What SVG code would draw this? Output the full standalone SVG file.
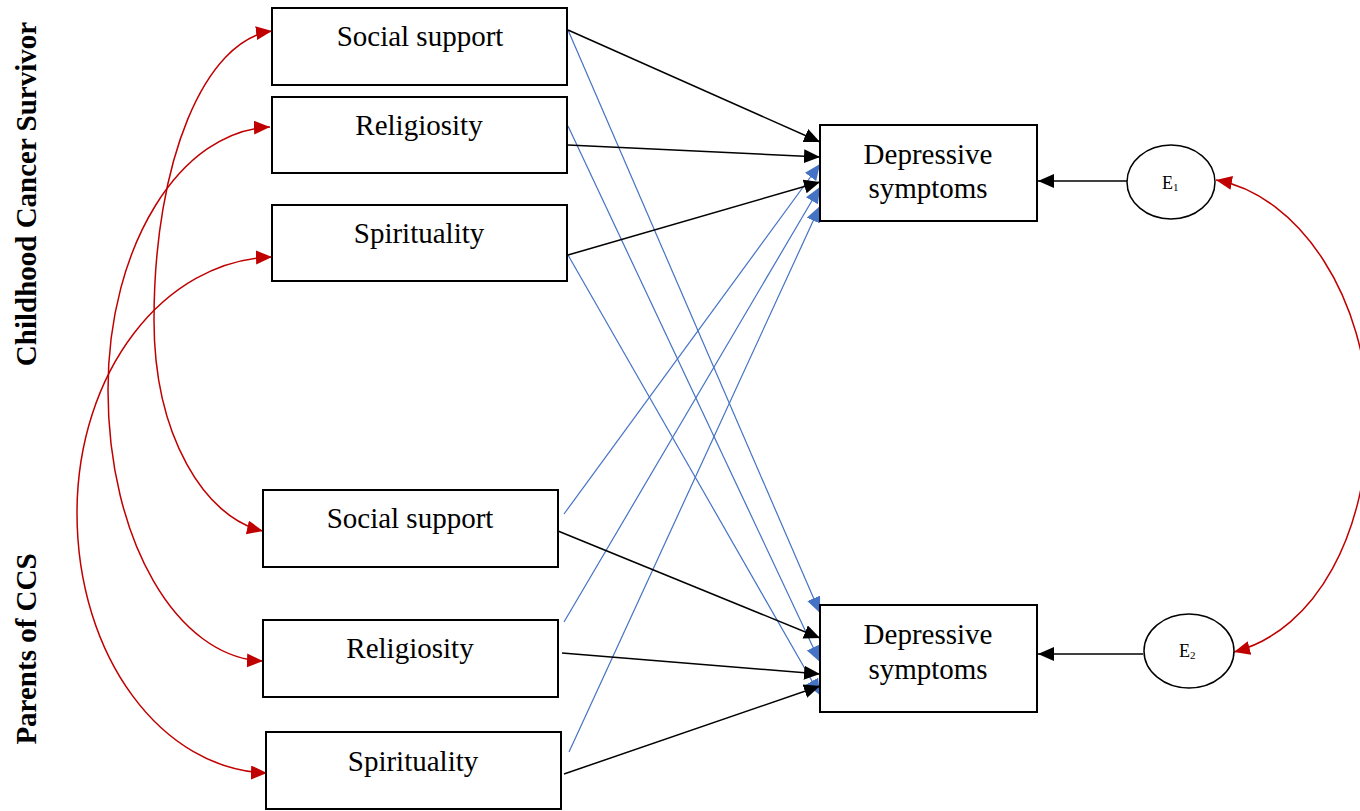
<svg xmlns="http://www.w3.org/2000/svg" width="1360" height="811" viewBox="0 0 1360 811">
<style>
.box{fill:#fff;stroke:#000;stroke-width:2}
.t{font-family:"Liberation Serif","Times New Roman",serif;font-size:29px;fill:#000;text-anchor:middle}
.lab{font-family:"Liberation Serif","Times New Roman",serif;font-size:29px;font-weight:bold;fill:#000;text-anchor:middle}
.e{font-family:"Liberation Serif","Times New Roman",serif;font-size:18px;fill:#000}
.blk{stroke:#000;stroke-width:1.5;fill:none;marker-end:url(#ab)}
.blu{stroke:#4472C4;stroke-width:1.2;fill:none;marker-end:url(#au)}
.red{stroke:#C00000;stroke-width:1.5;fill:none;marker-start:url(#ar);marker-end:url(#ar)}
</style>
<defs>
<marker id="ab" markerUnits="userSpaceOnUse" markerWidth="17" markerHeight="15" refX="16" refY="7" orient="auto"><path d="M0,0 L16,7 L0,14 z" fill="#000"/></marker>
<marker id="au" markerUnits="userSpaceOnUse" markerWidth="17" markerHeight="15" refX="16" refY="7" orient="auto"><path d="M0,0 L16,7 L0,14 z" fill="#4472C4"/></marker>
<marker id="ar" markerUnits="userSpaceOnUse" markerWidth="17" markerHeight="15" refX="16" refY="7" orient="auto-start-reverse"><path d="M0,0 L16,7 L0,14 z" fill="#C00000"/></marker>
</defs>
<rect width="1360" height="811" fill="#fff"/>
<text class="lab" transform="translate(36,194) rotate(-90)">Childhood Cancer Survivor</text>
<text class="lab" transform="translate(36,649) rotate(-90)">Parents of CCS</text>
<g id="connectors">
<path class="blu" d="M568,30 L820,613"/>
<path class="blu" d="M568,126 L820,662"/>
<path class="blu" d="M568,255 L820,695"/>
<path class="blu" d="M564,514 L820,164"/>
<path class="blu" d="M564,622 L820,187"/>
<path class="blu" d="M569,752 L820,206"/>
<path class="blk" d="M568,30 L820,142"/>
<path class="blk" d="M568,145 L820,157"/>
<path class="blk" d="M568,255 L820,182"/>
<path class="blk" d="M558,531 L820,638"/>
<path class="blk" d="M562,653 L820,674"/>
<path class="blk" d="M564,774 L820,686"/>
<path class="blk" d="M1127,181 L1038,181"/>
<path class="blk" d="M1143,654 L1038,654"/>
<path class="red" d="M272,31 C205,40 154,160 154,320 C154,436 205,518 263,531"/>
<path class="red" d="M270,127 C181,130 108,245 108,390 C108,540 177,658 263,661"/>
<path class="red" d="M272,257 C164,260 77,372 77,513 C77,657 162,770 267,773"/>
<path class="red" d="M1216,180 C1300,195 1368,300 1368,417 C1368,530 1318,630 1234,652"/>
</g>
<g id="n_ss1"><rect class="box" x="272" y="8" width="295" height="77"/><text class="t" x="420" y="46">Social support</text></g>
<g id="n_rel1"><rect class="box" x="272" y="97" width="295" height="76"/><text class="t" x="419" y="135">Religiosity</text></g>
<g id="n_spi1"><rect class="box" x="272" y="205" width="295" height="76"/><text class="t" x="419" y="243">Spirituality</text></g>
<g id="n_ss2"><rect class="box" x="263" y="490" width="295" height="77"/><text class="t" x="410" y="528">Social support</text></g>
<g id="n_rel2"><rect class="box" x="263" y="620" width="295" height="77"/><text class="t" x="410" y="658">Religiosity</text></g>
<g id="n_spi2"><rect class="box" x="266" y="732" width="295" height="77"/><text class="t" x="413" y="771">Spirituality</text></g>
<g id="n_dep1"><rect class="box" x="820" y="125" width="217" height="96"/><text class="t" x="928" y="164">Depressive</text><text class="t" x="928" y="198">symptoms</text></g>
<g id="n_dep2"><rect class="box" x="820" y="605" width="217" height="107"/><text class="t" x="928" y="644">Depressive</text><text class="t" x="928" y="679">symptoms</text></g>
<g id="n_e1"><ellipse cx="1171" cy="182" rx="44" ry="37" fill="#fff" stroke="#000" stroke-width="1.5"/><text class="e" x="1162" y="189">E<tspan font-size="11" dy="2">1</tspan></text></g>
<g id="n_e2"><ellipse cx="1189" cy="651" rx="45" ry="37" fill="#fff" stroke="#000" stroke-width="1.5"/><text class="e" x="1179" y="657">E<tspan font-size="11" dy="2">2</tspan></text></g>
</svg>
